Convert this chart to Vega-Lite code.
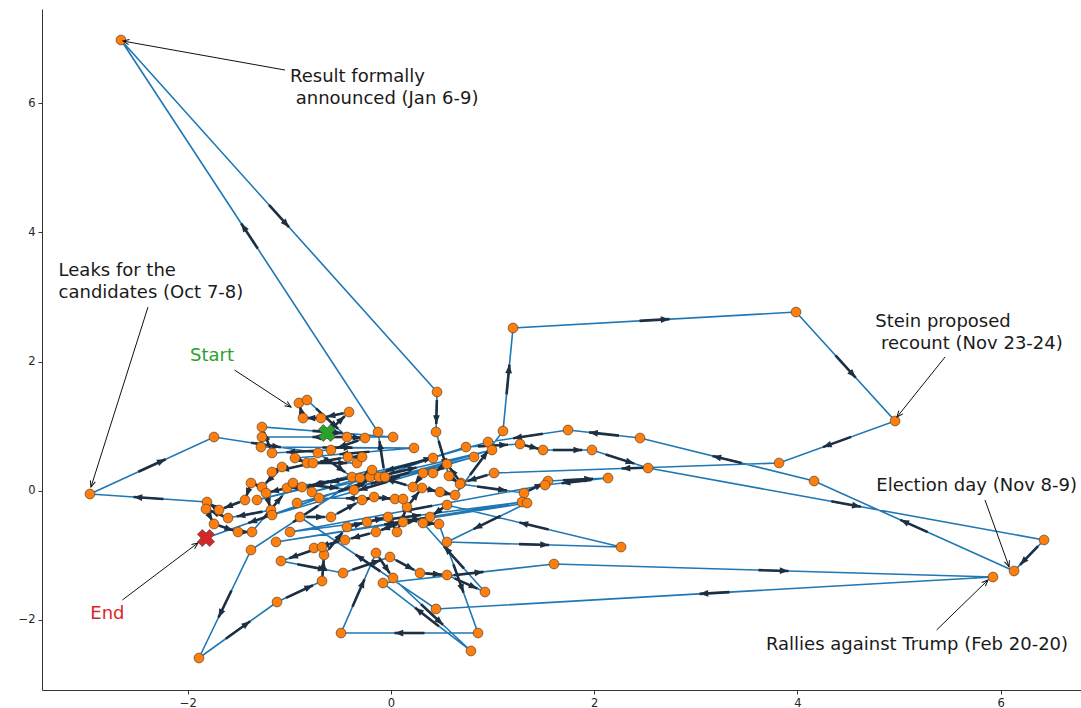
{
  "$schema": "https://vega.github.io/schema/vega-lite/v6.json",
  "width": 1039,
  "height": 681,
  "autosize": "none",
  "padding": {"left": 42, "top": 9, "right": 0, "bottom": 18},
  "background": "white",
  "datasets": {
    "path": [
      {"t":1,"x":-0.63,"y":0.893},{"t":2,"x":-0.413,"y":1.218},{"t":3,"x":-0.689,"y":1.125},{"t":4,"x":-0.866,"y":1.125},
      {"t":5,"x":-0.906,"y":1.358},{"t":6,"x":-0.827,"y":1.404},{"t":7,"x":-0.433,"y":0.831},{"t":8,"x":-0.256,"y":0.816},
      {"t":9,"x":-0.591,"y":0.63},{"t":10,"x":-1.171,"y":0.584},{"t":11,"x":-1.27,"y":0.986},{"t":12,"x":0.02,"y":0.831},
      {"t":13,"x":-1.27,"y":0.831},{"t":14,"x":-1.28,"y":0.676},{"t":15,"x":0.226,"y":0.661},{"t":16,"x":-0.945,"y":0.506},
      {"t":17,"x":-0.827,"y":0.429},{"t":18,"x":-0.335,"y":0.429},{"t":19,"x":-0.285,"y":0.522},{"t":20,"x":-0.423,"y":0.522},
      {"t":21,"x":-0.768,"y":0.429},{"t":22,"x":-1.171,"y":0.289},{"t":23,"x":-1.073,"y":0.367},{"t":24,"x":-1.27,"y":0.057},
      {"t":25,"x":-1.378,"y":0.119},{"t":26,"x":-1.437,"y":-0.144},{"t":27,"x":-1.693,"y":-0.299},{"t":28,"x":-1.811,"y":-0.175},
      {"t":29,"x":-2.963,"y":-0.051},{"t":30,"x":-1.742,"y":0.831},{"t":31,"x":-0.719,"y":0.584},{"t":32,"x":-0.384,"y":0.212},
      {"t":33,"x":-0.876,"y":0.057},{"t":34,"x":-1.024,"y":0.042},{"t":35,"x":-1.23,"y":-0.036},{"t":36,"x":-1.181,"y":-0.299},
      {"t":37,"x":-1.604,"y":-0.423},{"t":38,"x":-1.821,"y":-0.283},{"t":39,"x":-1.742,"y":-0.515},{"t":40,"x":-1.506,"y":-0.639},
      {"t":41,"x":-1.368,"y":-0.639},{"t":42,"x":-0.965,"y":0.119},{"t":43,"x":-0.364,"y":0.011},{"t":44,"x":-0.207,"y":0.212},
      {"t":45,"x":0.738,"y":0.676},{"t":46,"x":1.27,"y":0.723},{"t":47,"x":1.496,"y":0.63},{"t":48,"x":1.978,"y":0.63},
      {"t":49,"x":2.53,"y":0.351},{"t":50,"x":6.427,"y":-0.763},{"t":51,"x":6.132,"y":-1.243},{"t":52,"x":4.164,"y":0.15},
      {"t":53,"x":2.451,"y":0.816},{"t":54,"x":1.742,"y":0.94},{"t":55,"x":0.955,"y":0.754},{"t":56,"x":-0.778,"y":-0.02},
      {"t":57,"x":0.994,"y":0.63},{"t":58,"x":-0.925,"y":-0.19},{"t":59,"x":0.817,"y":0.522},{"t":60,"x":-1.171,"y":-0.376},
      {"t":61,"x":0.413,"y":0.506},{"t":62,"x":-1.319,"y":-0.144},{"t":63,"x":-0.187,"y":0.32},{"t":64,"x":-0.305,"y":0.197},
      {"t":65,"x":-1.378,"y":-0.918},{"t":66,"x":-1.89,"y":-2.59},{"t":67,"x":-1.122,"y":-1.723},{"t":68,"x":-0.679,"y":-1.398},
      {"t":69,"x":-0.659,"y":-0.995},{"t":70,"x":-0.433,"y":-0.562},{"t":71,"x":-0.236,"y":-0.485},{"t":72,"x":-0.03,"y":-0.407},
      {"t":73,"x":0.059,"y":-0.639},{"t":74,"x":0.157,"y":-0.252},{"t":75,"x":0.305,"y":0.042},{"t":76,"x":0.482,"y":-0.02},
      {"t":77,"x":0.63,"y":-0.067},{"t":78,"x":1.102,"y":0.924},{"t":79,"x":1.201,"y":2.519},{"t":80,"x":3.986,"y":2.766},
      {"t":81,"x":4.961,"y":1.079},{"t":82,"x":3.819,"y":0.429},{"t":83,"x":1.014,"y":0.274},{"t":84,"x":0.689,"y":0.119},
      {"t":85,"x":0.551,"y":0.413},{"t":86,"x":0.413,"y":0.274},{"t":87,"x":0.315,"y":0.274},{"t":88,"x":0.217,"y":0.057},
      {"t":89,"x":-0.118,"y":0.212},{"t":90,"x":-0.059,"y":0.212},{"t":91,"x":-0.128,"y":0.909},{"t":92,"x":-2.658,"y":6.977},
      {"t":93,"x":0.453,"y":1.528},{"t":94,"x":0.443,"y":0.909},{"t":95,"x":0.571,"y":0.228},{"t":96,"x":0.679,"y":0.104},
      {"t":97,"x":1.309,"y":-0.036},{"t":98,"x":1.545,"y":0.15},{"t":99,"x":2.136,"y":0.197},{"t":100,"x":1.516,"y":0.088},
      {"t":101,"x":-0.994,"y":-0.639},{"t":102,"x":1.289,"y":-0.175},{"t":103,"x":-1.132,"y":-0.794},{"t":104,"x":1.339,"y":-0.19},
      {"t":105,"x":0.551,"y":-0.794},{"t":106,"x":2.264,"y":-0.872},{"t":107,"x":0.551,"y":-0.221},{"t":108,"x":0.384,"y":-0.407},
      {"t":109,"x":0.118,"y":-0.485},{"t":110,"x":-0.148,"y":-0.639},{"t":111,"x":-0.453,"y":-0.763},{"t":112,"x":-0.758,"y":-0.887},
      {"t":113,"x":-0.679,"y":-0.872},{"t":114,"x":-1.083,"y":-1.088},{"t":115,"x":-0.472,"y":-1.274},{"t":116,"x":-0.01,"y":-1.026},
      {"t":117,"x":0.285,"y":-1.274},{"t":118,"x":0.551,"y":-1.305},{"t":119,"x":0.925,"y":-1.568},{"t":120,"x":0.315,"y":-0.5},
      {"t":121,"x":0.472,"y":-0.515},{"t":122,"x":0.856,"y":-2.203},{"t":123,"x":-0.492,"y":-2.203},{"t":124,"x":-0.148,"y":-0.964},
      {"t":125,"x":0.02,"y":-1.351},{"t":126,"x":0.787,"y":-2.481},{"t":127,"x":-0.079,"y":-1.429},{"t":128,"x":1.604,"y":-1.135},
      {"t":129,"x":5.925,"y":-1.336},{"t":130,"x":0.443,"y":-1.831},{"t":131,"x":-0.896,"y":-0.407},{"t":132,"x":-0.591,"y":-0.407},
      {"t":133,"x":-0.285,"y":-0.144},{"t":134,"x":-0.167,"y":-0.098},{"t":135,"x":0.039,"y":-0.128},{"t":136,"x":0.118,"y":-0.128},
      {"t":137,"x":-0.709,"y":-0.113},{"t":138,"x":-1.821,"y":-0.732}
    ],
    "marks": [
      {"who":"Start","x":-0.63,"y":0.893},
      {"who":"End","x":-1.821,"y":-0.732}
    ],
    "notes": [
      {"who":"event","label":"Result formally\n\u200b announced (Jan 6-9)","tx":-0.994,"ty":6.543,"fx":-1.043,"fy":6.512,"px":-2.638,"py":6.961},
      {"who":"event","label":"Leaks for the\ncandidates (Oct 7-8)","tx":-3.272,"ty":3.54,"fx":-2.392,"fy":2.842,"px":-2.953,"py":0.057},
      {"who":"Start","label":"Start","tx":-1.978,"ty":2.224,"fx":-1.54,"fy":1.868,"px":-0.984,"py":1.295},
      {"who":"End","label":"End","tx":-2.96,"ty":-1.769,"fx":-2.644,"fy":-1.692,"px":-1.9,"py":-0.808},
      {"who":"event","label":"Stein proposed\n\u200b recount (Nov 23-24)","tx":4.766,"ty":2.751,"fx":5.453,"fy":2.07,"px":4.98,"py":1.141},
      {"who":"event","label":"Election day (Nov 8-9)","tx":4.776,"ty":0.212,"fx":5.846,"fy":-0.144,"px":6.083,"py":-1.179},
      {"who":"event","label":"Rallies against Trump (Feb 20-20)","tx":3.69,"ty":-2.249,"fx":5.37,"fy":-2.156,"px":5.876,"py":-1.382}
    ]
  },
  "config": {
    "view": {"stroke": null},
    "axis": {"grid": false, "title": null, "format": "d", "labelFont": "DejaVu Sans", "labelFontSize": 11.5, "labelColor": "#262626", "domainColor": "#333333", "tickColor": "#333333", "tickSize": 4, "labelPadding": 3, "domainWidth": 1, "tickWidth": 1},
    "text": {"font": "DejaVu Sans"}
  },
  "layer": [
    {
      "data": {"name": "path"},
      "mark": {"type": "line", "color": "#1f77b4", "strokeWidth": 1.6},
      "encoding": {
        "x": {"field": "x", "type": "quantitative", "scale": {"domain": [-3.435, 6.791], "nice": false, "zero": false}, "axis": {"values": [-2, 0, 2, 4, 6]}},
        "y": {"field": "y", "type": "quantitative", "scale": {"domain": [-3.085, 7.457], "nice": false, "zero": false}, "axis": {"values": [-2, 0, 2, 4, 6]}},
        "order": {"field": "t", "type": "quantitative"}
      }
    },
    {
      "mark": {"type": "rule", "color": "#333333", "strokeWidth": 1},
      "encoding": {"y": {"datum": 7.457, "type": "quantitative"}}
    },
    {
      "data": {"name": "path"},
      "transform": [
        {"window": [{"op": "lead", "field": "x", "as": "nx"}, {"op": "lead", "field": "y", "as": "ny"}], "sort": [{"field": "t"}]},
        {"filter": "isValid(datum.nx)"},
        {"calculate": "(datum.nx - datum.x) * 101.6", "as": "dxp"},
        {"calculate": "(datum.ny - datum.y) * 64.6", "as": "dyp"},
        {"calculate": "sqrt(datum.dxp * datum.dxp + datum.dyp * datum.dyp)", "as": "len"},
        {"calculate": "min(30, 0.6 * datum.len) / 2", "as": "hs"},
        {"calculate": "(datum.x + datum.nx) / 2 - datum.dxp / datum.len * datum.hs / 101.6", "as": "ax0"},
        {"calculate": "(datum.y + datum.ny) / 2 - datum.dyp / datum.len * datum.hs / 64.6", "as": "ay0"},
        {"calculate": "(datum.x + datum.nx) / 2 + datum.dxp / datum.len * datum.hs / 101.6", "as": "ax1"},
        {"calculate": "(datum.y + datum.ny) / 2 + datum.dyp / datum.len * datum.hs / 64.6", "as": "ay1"},
        {"calculate": "atan2(datum.dxp, datum.dyp) * 180 / PI", "as": "ang"}
      ],
      "layer": [
        {
          "mark": {"type": "rule", "color": "#1d2f42", "strokeWidth": 2.6},
          "encoding": {
            "x": {"field": "ax0", "type": "quantitative"},
            "y": {"field": "ay0", "type": "quantitative"},
            "x2": {"field": "ax1"},
            "y2": {"field": "ay1"}
          }
        },
        {
          "mark": {"type": "point", "shape": "M0,0L0.5,1.3L-0.5,1.3Z", "filled": true, "color": "#1d2f42", "opacity": 1, "size": 180},
          "encoding": {
            "x": {"field": "ax1", "type": "quantitative"},
            "y": {"field": "ay1", "type": "quantitative"},
            "angle": {"field": "ang", "type": "quantitative", "scale": null}
          }
        }
      ]
    },
    {
      "data": {"name": "path"},
      "mark": {"type": "point", "shape": "circle", "filled": true, "fill": "#ff7f0e", "stroke": "#6b4a2b", "strokeWidth": 0.8, "opacity": 1, "size": 95},
      "encoding": {
        "x": {"field": "x", "type": "quantitative"},
        "y": {"field": "y", "type": "quantitative"}
      }
    },
    {
      "data": {"name": "marks"},
      "mark": {"type": "point", "shape": "cross", "angle": 45, "filled": true, "opacity": 1, "size": 300, "stroke": "#444444", "strokeWidth": 0.6},
      "encoding": {
        "x": {"field": "x", "type": "quantitative"},
        "y": {"field": "y", "type": "quantitative"},
        "color": {"field": "who", "type": "nominal", "scale": {"domain": ["Start", "End", "event"], "range": ["#2ca02c", "#d62728", "#1a1a1a"]}, "legend": null}
      }
    },
    {
      "data": {"name": "notes"},
      "transform": [
        {"calculate": "(datum.px - datum.fx) * 101.6", "as": "dxp"},
        {"calculate": "(datum.py - datum.fy) * 64.6", "as": "dyp"},
        {"calculate": "atan2(datum.dxp, datum.dyp) * 180 / PI", "as": "ang"}
      ],
      "layer": [
        {
          "mark": {"type": "rule", "color": "#111111", "strokeWidth": 1},
          "encoding": {
            "x": {"field": "fx", "type": "quantitative"},
            "y": {"field": "fy", "type": "quantitative"},
            "x2": {"field": "px"},
            "y2": {"field": "py"}
          }
        },
        {
          "mark": {"type": "point", "shape": "M-0.55,1.3L0,0L0.55,1.3", "filled": false, "color": "#111111", "strokeWidth": 1, "opacity": 1, "size": 90},
          "encoding": {
            "x": {"field": "px", "type": "quantitative"},
            "y": {"field": "py", "type": "quantitative"},
            "angle": {"field": "ang", "type": "quantitative", "scale": null}
          }
        },
        {
          "mark": {"type": "text", "align": "left", "baseline": "top", "fontSize": 18, "lineHeight": 22, "lineBreak": "\n"},
          "encoding": {
            "x": {"field": "tx", "type": "quantitative"},
            "y": {"field": "ty", "type": "quantitative"},
            "text": {"field": "label"},
            "color": {"field": "who", "type": "nominal", "legend": null}
          }
        }
      ]
    }
  ]
}
